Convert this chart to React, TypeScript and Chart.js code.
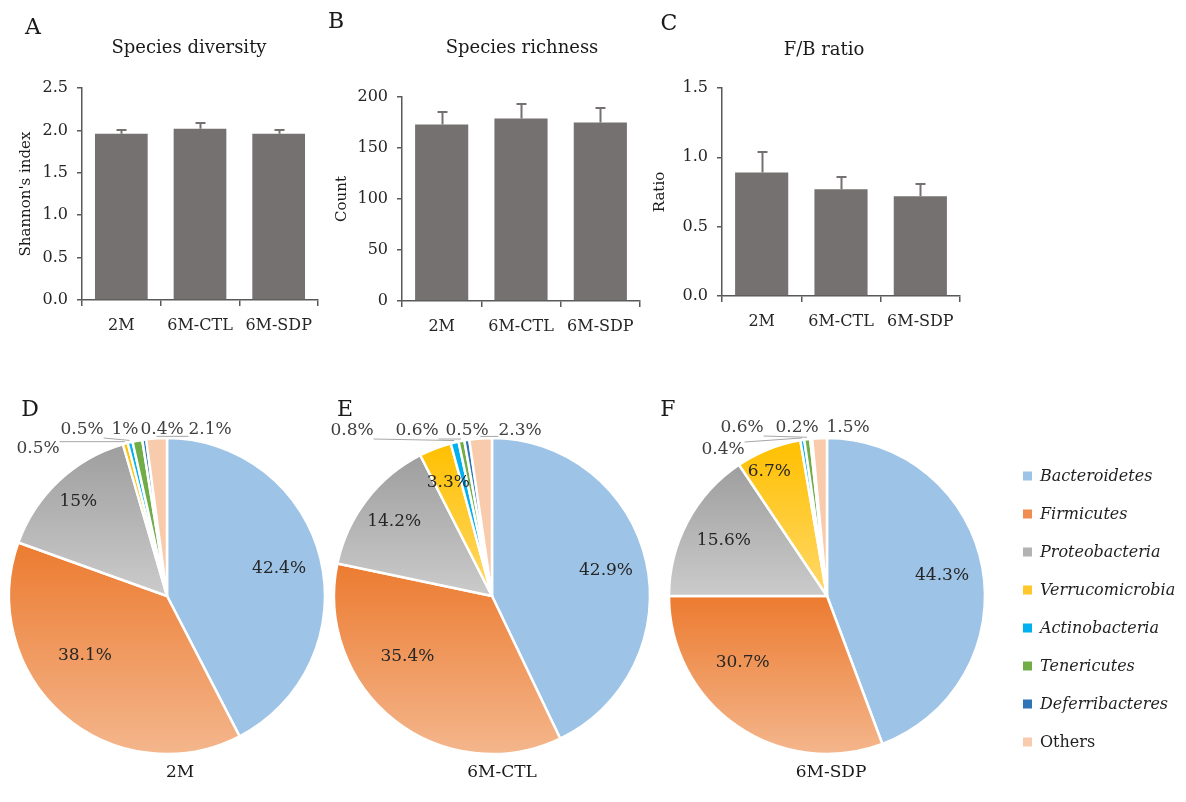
import React, { useEffect, useRef } from 'react';
import { Chart, registerables } from 'chart.js';

Chart.register(...registerables);

// ---------- data ----------
const GROUPS = ['2M', '6M-CTL', '6M-SDP'];

const SHANNON = [1.96, 2.02, 1.96];
const SHANNON_SD = [0.05, 0.07, 0.05];
const SHANNON_TICKS = [0, 0.5, 1.0, 1.5, 2.0, 2.5];

const RICHNESS = [173, 179, 175];
const RICHNESS_SD = [12, 14, 14];
const RICHNESS_TICKS = [0, 50, 100, 150, 200];

const FB_RATIO = [0.89, 0.77, 0.72];
const FB_RATIO_SD = [0.15, 0.09, 0.09];
const FB_TICKS = [0, 0.5, 1.0, 1.5];

const PHYLA = [
  'Bacteroidetes',
  'Firmicutes',
  'Proteobacteria',
  'Verrucomicrobia',
  'Actinobacteria',
  'Tenericutes',
  'Deferribacteres',
  'Others',
];
const PHYLA_ITALIC = [true, true, true, true, true, true, true, false];

const PIE_2M = [42.4, 38.1, 15, 0.5, 0.5, 1, 0.4, 2.1];
const PIE_6M_CTL = [42.9, 35.4, 14.2, 3.3, 0.8, 0.6, 0.5, 2.3];
const PIE_6M_SDP = [44.3, 30.7, 15.6, 6.7, 0.4, 0.6, 0.2, 1.5];

// ---------- styles ----------
const FONT = "'DejaVu Serif', 'Liberation Serif', serif";
const AXIS = '#595959';
const TEXT = '#262626';
const BAR = '#767171';
const PIE_RADIUS = 158;

const PHYLA_COLORS = ['#9DC3E6', '#F08C50', '#B3B3B3', '#FFC72C', '#00B0F0', '#70AD47', '#2E75B6', '#F8CBAD'];
const PHYLA_GRADIENTS: (string[] | null)[] = [
  null,
  ['#EC7B30', '#F4B68C'],
  ['#9E9E9E', '#CBCBCB'],
  ['#FFC000', '#FFD86A'],
  null,
  null,
  null,
  null,
];

// ---------- plugins ----------
const panelTextPlugin = {
  id: 'panelText',
  afterDraw(chart: any, _args: any, opts: any) {
    const ctx = chart.ctx;
    ctx.save();
    (opts.items || []).forEach((it: any) => {
      ctx.font = it.font;
      ctx.fillStyle = it.color || '#1a1a1a';
      ctx.textAlign = it.align || 'center';
      ctx.textBaseline = 'middle';
      ctx.fillText(it.text, it.x, it.y);
    });
    ctx.restore();
  },
};

const errorBarPlugin = {
  id: 'errorBars',
  afterDatasetsDraw(chart: any, _args: any, opts: any) {
    const meta = chart.getDatasetMeta(0);
    const ys = chart.scales.y;
    const vals = chart.data.datasets[0].data;
    const errs = opts.errors || [];
    const ctx = chart.ctx;
    ctx.save();
    ctx.strokeStyle = opts.color || BAR;
    ctx.lineWidth = 2;
    meta.data.forEach((bar: any, i: number) => {
      const x = Math.round(bar.x) + 0.5;
      const y0 = ys.getPixelForValue(vals[i]);
      const y1 = Math.round(ys.getPixelForValue(vals[i] + errs[i]));
      ctx.beginPath();
      ctx.moveTo(x, y0);
      ctx.lineTo(x, y1);
      ctx.moveTo(x - 5, y1);
      ctx.lineTo(x + 5, y1);
      ctx.stroke();
    });
    ctx.restore();
  },
};

const pieLabelPlugin = {
  id: 'pieLabels',
  afterDatasetsDraw(chart: any, _args: any, opts: any) {
    const meta = chart.getDatasetMeta(0);
    const data = chart.data.datasets[0].data;
    const ctx = chart.ctx;
    ctx.save();
    ctx.font = `17px ${FONT}`;
    ctx.textAlign = 'center';
    ctx.textBaseline = 'middle';
    meta.data.forEach((arc: any, i: number) => {
      const { x, y, startAngle, endAngle, outerRadius } = arc.getProps(
        ['x', 'y', 'startAngle', 'endAngle', 'outerRadius'],
        true
      );
      const text = `${data[i]}%`;
      const mid = (startAngle + endAngle) / 2;
      const inside = opts.inside && opts.inside[i];
      const outside = opts.outside && opts.outside[i];
      if (inside) {
        const ang = mid + (inside.shift * Math.PI) / 180;
        const lx = x + Math.cos(ang) * outerRadius * inside.f;
        const ly = y + Math.sin(ang) * outerRadius * inside.f;
        ctx.fillStyle = '#262626';
        ctx.fillText(text, lx, ly);
      } else if (outside) {
        const lx = x + outside[0];
        const ly = y + outside[1];
        const w = ctx.measureText(text).width;
        const h = 16;
        const ax = x + Math.cos(mid) * (outerRadius + 2);
        const ay = y + Math.sin(mid) * (outerRadius + 2);
        const nx = Math.min(Math.max(ax, lx - w / 2), lx + w / 2);
        const ny = Math.min(Math.max(ay, ly - h / 2), ly + h / 2);
        if (Math.hypot(ax - nx, ay - ny) > 10) {
          ctx.strokeStyle = '#A6A6A6';
          ctx.lineWidth = 1;
          ctx.beginPath();
          ctx.moveTo(nx, ny);
          ctx.lineTo(ax, ay);
          ctx.stroke();
        }
        ctx.fillStyle = '#404040';
        ctx.fillText(text, lx, ly);
      }
    });
    ctx.restore();
  },
};

const legendPlugin = {
  id: 'phylaLegend',
  afterDraw(chart: any, _args: any, opts: any) {
    if (!opts || !opts.show) return;
    const ctx = chart.ctx;
    const labels = chart.data.labels;
    ctx.save();
    labels.forEach((name: string, i: number) => {
      const y = opts.y + i * opts.gap;
      ctx.fillStyle = PHYLA_COLORS[i];
      ctx.fillRect(opts.x, y - 4.5, 9, 9);
      ctx.font = `${PHYLA_ITALIC[i] ? 'italic ' : ''}16px ${FONT}`;
      ctx.fillStyle = '#1f1f1f';
      ctx.textAlign = 'left';
      ctx.textBaseline = 'middle';
      ctx.fillText(name, opts.x + 17, y + 1);
    });
    ctx.restore();
  },
};

// ---------- helpers ----------
function sliceFill(c: any) {
  const i = c.dataIndex;
  if (i === undefined || i === null) return PHYLA_COLORS[0];
  const grad = PHYLA_GRADIENTS[i];
  const area = c.chart.chartArea;
  if (!grad || !area) return PHYLA_COLORS[i];
  const data: number[] = c.dataset.data;
  const total = data.reduce((a, b) => a + b, 0);
  let before = 0;
  for (let k = 0; k < i; k++) before += data[k];
  const a0 = (before / total) * 2 * Math.PI;
  const a1 = ((before + data[i]) / total) * 2 * Math.PI;
  const cy = (area.top + area.bottom) / 2;
  const r = PIE_RADIUS;
  const ys = [cy, cy - r * Math.cos(a0), cy - r * Math.cos(a1)];
  if (a0 <= Math.PI && a1 >= Math.PI) ys.push(cy + r);
  const top = Math.min(...ys);
  const bottom = Math.max(...ys);
  const g = c.chart.ctx.createLinearGradient(0, top, 0, bottom);
  g.addColorStop(0, grad[0]);
  g.addColorStop(1, grad[1]);
  return g;
}

function barConfig(p: any) {
  return {
    type: 'bar',
    data: {
      labels: GROUPS,
      datasets: [
        {
          data: p.values,
          backgroundColor: BAR,
          barPercentage: 0.67,
          categoryPercentage: 1,
        },
      ],
    },
    options: {
      responsive: false,
      animation: false,
      layout: { padding: { top: p.areaTop, right: p.padRight, left: 0, bottom: 0 } },
      plugins: {
        legend: { display: false },
        tooltip: { enabled: false },
        errorBars: { errors: p.errors, color: BAR },
        panelText: {
          items: [
            { text: p.letter, x: p.letterX, y: p.letterY, font: `22px ${FONT}`, color: '#1a1a1a' },
            { text: p.title, x: p.titleX, y: p.titleY, font: `18px ${FONT}`, color: '#1a1a1a' },
          ],
        },
      },
      scales: {
        x: {
          grid: {
            display: true,
            drawOnChartArea: false,
            drawTicks: true,
            tickLength: 6,
            color: AXIS,
            lineWidth: 1.5,
          },
          border: { display: true, color: AXIS, width: 1.5 },
          ticks: { color: TEXT, font: { family: FONT, size: 16 }, padding: 10 },
          afterFit: (s: any) => {
            s.height = p.xHeight;
          },
        },
        y: {
          min: p.ticks[0],
          max: p.ticks[p.ticks.length - 1],
          afterBuildTicks: (s: any) => {
            s.ticks = p.ticks.map((v: number) => ({ value: v }));
          },
          ticks: {
            color: TEXT,
            font: { family: FONT, size: 16 },
            padding: 9,
            callback: (v: any) => Number(v).toFixed(p.decimals),
          },
          grid: {
            display: true,
            drawOnChartArea: false,
            drawTicks: true,
            tickLength: 5,
            color: AXIS,
            lineWidth: 1.5,
          },
          border: { display: true, color: AXIS, width: 1.5 },
          title: {
            display: true,
            text: p.yTitle,
            color: '#1a1a1a',
            font: { family: FONT, size: 15 },
            padding: { top: p.yTitleX - 9, bottom: 0 },
          },
          afterFit: (s: any) => {
            s.width = 82;
          },
        },
      },
    },
    plugins: [errorBarPlugin, panelTextPlugin],
  };
}

function pieConfig(p: any) {
  return {
    type: 'pie',
    data: {
      labels: PHYLA,
      datasets: [
        {
          data: p.values,
          backgroundColor: sliceFill,
          borderColor: '#ffffff',
          borderWidth: 2.5,
          radius: PIE_RADIUS,
        },
      ],
    },
    options: {
      responsive: false,
      animation: false,
      layout: { padding: { right: p.padRight || 0 } },
      plugins: {
        legend: { display: false },
        tooltip: { enabled: false },
        pieLabels: { inside: p.inside, outside: p.outside },
        panelText: {
          items: [
            { text: p.letter, x: p.letterX, y: 14, font: `22px ${FONT}`, color: '#1a1a1a' },
            { text: p.caption, x: p.captionX, y: 377, font: `17px ${FONT}`, color: '#1a1a1a' },
          ],
        },
        phylaLegend: p.legend || { show: false },
      },
    },
    plugins: [pieLabelPlugin, panelTextPlugin, legendPlugin],
  };
}

// ---------- components ----------
function ChartCanvas({ left, top, width, height, makeConfig }: any) {
  const ref = useRef<HTMLCanvasElement | null>(null);
  useEffect(() => {
    if (!ref.current) return;
    const chart = new Chart(ref.current, makeConfig());
    return () => chart.destroy();
  }, []);
  return (
    <canvas
      ref={ref}
      width={width}
      height={height}
      style={{ position: 'absolute', left, top, width, height }}
    />
  );
}

export default function App() {
  return (
    <div
      style={{
        position: 'absolute',
        left: 0,
        top: 0,
        width: 1186,
        height: 802,
        background: '#ffffff',
        overflow: 'hidden',
      }}
    >
      <ChartCanvas
        left={0}
        top={0}
        width={325}
        height={345}
        makeConfig={() =>
          barConfig({
            values: SHANNON,
            errors: SHANNON_SD,
            ticks: SHANNON_TICKS,
            decimals: 1,
            yTitle: "Shannon's index",
            yTitleX: 26,
            areaTop: 88,
            padRight: 7,
            xHeight: 45,
            letter: 'A',
            letterX: 33,
            letterY: 28,
            title: 'Species diversity',
            titleX: 189,
            titleY: 48,
          })
        }
      />
      <ChartCanvas
        left={320}
        top={0}
        width={325}
        height={345}
        makeConfig={() =>
          barConfig({
            values: RICHNESS,
            errors: RICHNESS_SD,
            ticks: RICHNESS_TICKS,
            decimals: 0,
            yTitle: 'Count',
            yTitleX: 22,
            areaTop: 97,
            padRight: 5,
            xHeight: 44,
            letter: 'B',
            letterX: 16,
            letterY: 22,
            title: 'Species richness',
            titleX: 202,
            titleY: 48,
          })
        }
      />
      <ChartCanvas
        left={640}
        top={0}
        width={325}
        height={345}
        makeConfig={() =>
          barConfig({
            values: FB_RATIO,
            errors: FB_RATIO_SD,
            ticks: FB_TICKS,
            decimals: 1,
            yTitle: 'Ratio',
            yTitleX: 20,
            areaTop: 88,
            padRight: 5,
            xHeight: 49,
            letter: 'C',
            letterX: 29,
            letterY: 24,
            title: 'F/B ratio',
            titleX: 184,
            titleY: 50,
          })
        }
      />
      <ChartCanvas
        left={0}
        top={396}
        width={334}
        height={400}
        makeConfig={() =>
          pieConfig({
            values: PIE_2M,
            letter: 'D',
            letterX: 30,
            caption: '2M',
            captionX: 180,
            inside: { 0: { shift: 0, f: 0.73 }, 1: { shift: 13, f: 0.64 }, 2: { shift: 0, f: 0.82 } },
            outside: { 3: [-129, -147], 4: [-85, -166], 5: [-42, -166], 6: [-5, -166], 7: [43, -166] },
          })
        }
      />
      <ChartCanvas
        left={322}
        top={396}
        width={340}
        height={400}
        makeConfig={() =>
          pieConfig({
            values: PIE_6M_CTL,
            letter: 'E',
            letterX: 23,
            caption: '6M-CTL',
            captionX: 180,
            inside: {
              0: { shift: 0, f: 0.74 },
              1: { shift: 16, f: 0.66 },
              2: { shift: 0, f: 0.78 },
              3: { shift: 0, f: 0.77 },
            },
            outside: { 4: [-140, -165], 5: [-75, -165], 6: [-25, -165], 7: [28, -165] },
          })
        }
      />
      <ChartCanvas
        left={657}
        top={396}
        width={529}
        height={400}
        makeConfig={() =>
          pieConfig({
            values: PIE_6M_SDP,
            padRight: 189,
            letter: 'F',
            letterX: 11,
            caption: '6M-SDP',
            captionX: 174,
            inside: {
              0: { shift: 0, f: 0.74 },
              1: { shift: 17, f: 0.68 },
              2: { shift: 0, f: 0.74 },
              3: { shift: -3, f: 0.87 },
            },
            outside: { 4: [-104, -146], 5: [-85, -168], 6: [-30, -168], 7: [21, -168] },
            legend: { show: true, x: 366, y: 80, gap: 38 },
          })
        }
      />
    </div>
  );
}
